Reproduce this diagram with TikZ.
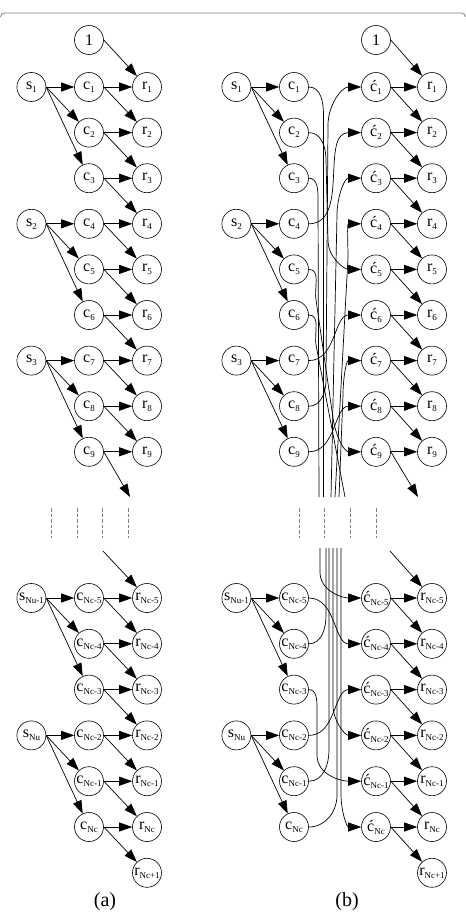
\documentclass[tikz,border=0pt]{standalone}
\usepackage{fontspec}
\setmainfont{Liberation Serif}
\usetikzlibrary{arrows.meta, positioning}

\newcommand{\lsub}[1]{\raisebox{-3pt}{\fontsize{9}{9}\selectfont #1}}

\tikzset{
  vert/.style={circle, draw, line width=0.6pt, minimum size=29pt, inner sep=0pt,
    font=\fontsize{16}{16}\selectfont},
  link/.style={line width=0.7pt, -{Triangle[length=13pt,width=9pt]}},
  wire/.style={line width=0.7pt},
  gapline/.style={line width=0.6pt, gray, dash pattern=on 3.5pt off 2pt}
}

\begin{document}
\begin{tikzpicture}[x=1pt, y=1pt]
  \useasboundingbox (0,0) rectangle (466,-916);

  % frame top
  \draw[gray, line width=0.8pt] (0.5,-17) arc[start angle=180, end angle=90, radius=4]
    -- (461.5,-13) arc[start angle=90, end angle=0, radius=4];

  % ---------------- (a) ----------------
  \node[vert] (aone) at (89,-40) {1};
  \foreach \k/\lab in {1/1,2/2,3/3,4/4,5/5,6/6,7/7,8/8,9/9,10/Nc-5,11/Nc-4,12/Nc-3,13/Nc-2,14/Nc-1,15/Nc,16/Nc+1} {
    \pgfmathsetmacro\yy{\k<10 ? -87-45.6*(\k-1) : -598-45.8*(\k-10)}
    \node[vert] (ar\k) at (147,\yy) {r\lsub{\lab}};
    \ifnum\k<16 \node[vert] (ac\k) at (89,\yy) {c\lsub{\lab}}; \fi
  }
  \foreach \k/\lab in {1/1,4/2,7/3,10/Nu-1,13/Nu}
    \node[vert, left=28pt of ac\k] (as\k) {s\lsub{\lab}};

  % s -> c
  \foreach \k in {1,4,7,10,13} {
    \pgfmathtruncatemacro\m{\k+1}
    \pgfmathtruncatemacro\n{\k+2}
    \draw[link] (as\k.east) -- (ac\k);
    \draw[link] (as\k.east) -- (ac\m);
    \draw[link] (as\k.east) -- (ac\n);
  }

  % c -> r
  \foreach \k in {1,2,3,4,5,6,7,8,10,11,12,13,14,15} {
    \pgfmathtruncatemacro\n{\k+1}
    \draw[link] (ac\k.east) -- (ar\k);
    \draw[link] (ac\k.east) -- (ar\n);
  }
  \draw[link] (ac9.east) -- (ar9);
  \draw[link] (aone.east) -- (ar1);

  % cut in the middle
  \coordinate (aend) at (130,-497);
  \coordinate (astart) at (103,-551);
  \draw[link] (ac9.east) -- (aend);
  \draw[link] (astart) -- (ar10);
  \foreach \x in {51,77,102,128}
    \draw[gapline] (\x,-508) -- (\x,-538);

  \node[font=\fontsize{20}{20}\selectfont] (alabel) at (105,-902) {(a)};

  % ---------------- (b) ----------------
  \node[vert] (bone) at (376,-40) {1};
  \foreach \k/\lab in {1/1,2/2,3/3,4/4,5/5,6/6,7/7,8/8,9/9,10/Nc-5,11/Nc-4,12/Nc-3,13/Nc-2,14/Nc-1,15/Nc,16/Nc+1} {
    \pgfmathsetmacro\yy{\k<10 ? -87-45.6*(\k-1) : -598-45.8*(\k-10)}
    \node[vert] (br\k) at (432,\yy) {r\lsub{\lab}};
    \ifnum\k<16
      \node[vert] (bc\k) at (294,\yy) {c\lsub{\lab}};
      \node[vert] (bd\k) at (376,\yy) {ć\lsub{\lab}};
    \fi
  }
  \foreach \k/\lab in {1/1,4/2,7/3,10/Nu-1,13/Nu}
    \node[vert, left=28pt of bc\k] (bs\k) {s\lsub{\lab}};

  % s -> c
  \foreach \k in {1,4,7,10,13} {
    \pgfmathtruncatemacro\m{\k+1}
    \pgfmathtruncatemacro\n{\k+2}
    \draw[link] (bs\k.east) -- (bc\k);
    \draw[link] (bs\k.east) -- (bc\m);
    \draw[link] (bs\k.east) -- (bc\n);
  }

  % c' -> r
  \foreach \k in {1,2,3,4,5,6,7,8,10,11,12,13,14,15} {
    \pgfmathtruncatemacro\n{\k+1}
    \draw[link] (bd\k.east) -- (br\k);
    \draw[link] (bd\k.east) -- (br\n);
  }
  \draw[link] (bd9.east) -- (br9);
  \draw[link] (bone.east) -- (br1);

  \coordinate (bend) at (418,-497);
  \coordinate (bstart) at (390,-551);
  \draw[link] (bd9.east) -- (bend);
  \draw[link] (bstart) -- (br10);
  \foreach \x in {299,324,350,376}
    \draw[gapline] (\x,-508) -- (\x,-538);

  % interleaver: c -> c'
  \coordinate (gt1) at (319,-497);   \coordinate (gb1) at (320,-548);
  \coordinate (gt2) at (323.5,-497); \coordinate (gb2) at (333,-548);
  \coordinate (gt3) at (345,-497);   \coordinate (gb3) at (341,-548);
  \coordinate (gt4) at (331,-497);   \coordinate (gb4) at (326,-548);
  \coordinate (gt5) at (335,-497);   \coordinate (gb5) at (329,-548);
  \coordinate (gt6) at (339,-497);   \coordinate (gb6) at (337,-548);

  % upper half
  \draw[link] (bc2.east) to[out=0,in=90] (326,-160) -- (328,-240) to[out=-90,in=180] (bd5.west);
  \draw[link] (bc4.east) to[out=0,in=180] (bd2.west);
  \draw[link] (bc5.east) to[out=0,in=100] (316,-300) -- (333,-418) to[out=-82,in=180] (bd9.west);
  \draw[link] (bc7.east) to[out=0,in=180] (bd6.west);
  \draw[link] (bc8.east) to[out=0,in=-90] (326,-380) -- (328,-125) to[out=90,in=180] (bd1.west);
  \draw[link] (bc9.east) to[out=0,in=180] (bd8.west);
  \draw[wire] (bc1.east) to[out=0,in=90] (323.5,-115) -- (gt2);
  \draw[wire] (bc3.east) to[out=0,in=90] (318,-200) -- (gt1);
  \draw[wire] (bc6.east) to[out=0,in=100] (316,-345) -- (gt3);
  \draw[link] (gt4) -- (337,-215) to[out=90,in=180] (bd3.west);
  \draw[link] (gt5) -- (348,-258) to[out=90,in=180] (bd4.west);
  \draw[link] (gt6) -- (343,-395) to[out=90,in=180] (bd7.west);

  % lower half
  \draw[link] (bc10.east) to[out=0,in=180] (bd11.west);
  \draw[link] (bc13.east) to[out=0,in=180] (bd12.west);
  \draw[link] (bc12.east) to[out=0,in=90] (317,-708) -- (317,-755) to[out=-90,in=180] (bd14.west);
  \draw[wire] (bc11.east) to[out=0,in=-90] (326,-615) -- (gb4);
  \draw[wire] (bc14.east) to[out=0,in=-90] (329,-750) -- (gb5);
  \draw[wire] (bc15.east) to[out=0,in=-90] (337,-795) -- (gb6);
  \draw[link] (gb1) -- (320,-572) to[out=-90,in=180] (bd10.west);
  \draw[link] (gb2) -- (333,-705) to[out=-90,in=180] (bd13.west);
  \draw[link] (gb3) -- (341,-795) to[out=-90,in=180] (bd15.west);

  \node[font=\fontsize{20}{20}\selectfont] (blabel) at (347,-902) {(b)};
\end{tikzpicture}
\end{document}
